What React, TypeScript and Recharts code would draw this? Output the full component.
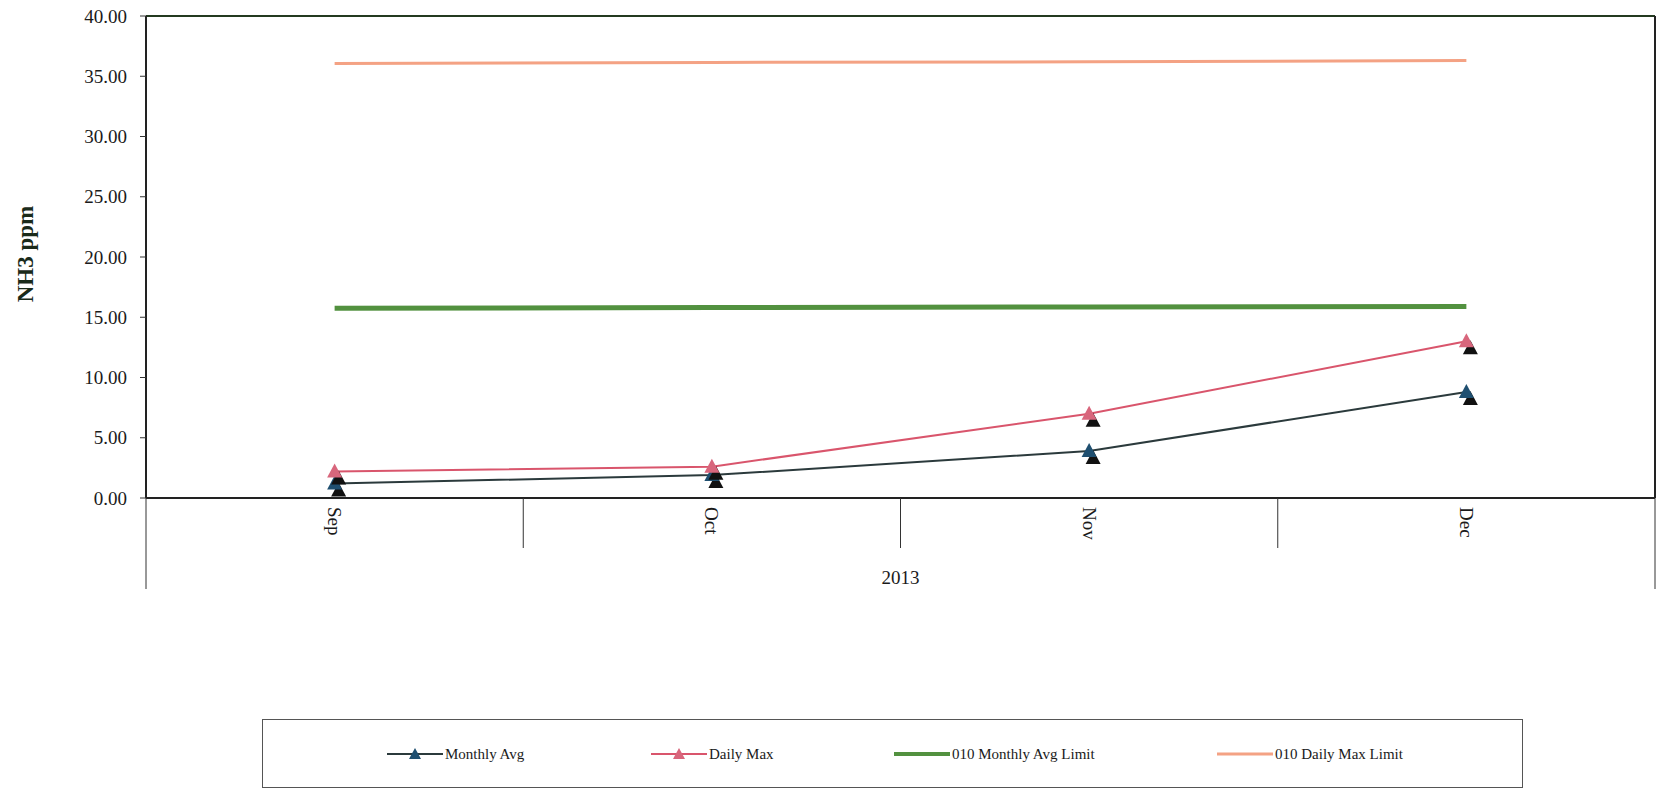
import React from 'react';
import { LineChart, Line, XAxis, YAxis, CartesianGrid, ReferenceLine } from 'recharts';

const categories = ['Sep', 'Oct', 'Nov', 'Dec'];
const monthlyAvg = [1.2, 1.9, 3.9, 8.8];
const dailyMax = [2.2, 2.6, 7.0, 13.0];
const monthlyAvgLimit = [15.75, 15.8, 15.85, 15.9];
const dailyMaxLimit = [36.05, 36.15, 36.2, 36.3];
const yTicks = [0, 5, 10, 15, 20, 25, 30, 35, 40];
const groupLabel = '2013';
const yLabel = 'NH3 ppm';

const seriesInfo = [
  { key: 'monthlyAvg', name: 'Monthly Avg', color: '#2b3a3c', marker: '#1f4f70', width: 2, tri: true },
  { key: 'dailyMax', name: 'Daily Max', color: '#d9556c', marker: '#d8667c', width: 2, tri: true },
  { key: 'monthlyAvgLimit', name: '010 Monthly Avg Limit', color: '#52913f', marker: '', width: 5, tri: false },
  { key: 'dailyMaxLimit', name: '010 Daily Max Limit', color: '#f4a284', marker: '', width: 3, tri: false },
];

const data = categories.map((c, i) => ({
  cat: c,
  monthlyAvg: monthlyAvg[i],
  dailyMax: dailyMax[i],
  monthlyAvgLimit: monthlyAvgLimit[i],
  dailyMaxLimit: dailyMaxLimit[i],
}));

const FONT = '"Liberation Serif", "Times New Roman", serif';

const makeTriDot = (fill: string) => (props: any) => {
  const { cx, cy, index } = props;
  if (cx == null || cy == null) return <g key={index} />;
  const tri = (x: number, y: number) => `${x},${y - 8} ${x - 7.5},${y + 6} ${x + 7.5},${y + 6}`;
  return (
    <g key={index}>
      <polygon points={tri(cx + 4, cy + 7)} fill="#111" />
      <polygon points={tri(cx, cy)} fill={fill} />
    </g>
  );
};

const XTick = (props: any) => {
  const { x, y, payload, index, visibleTicksCount, width } = props;
  const off = payload && payload.offset ? payload.offset : width / visibleTicksCount / 2;
  const last = index === visibleTicksCount - 1;
  return (
    <g>
      <line x1={x - off} x2={x - off} y1={y} y2={y + (index === 0 ? 91 : 50)} stroke="#333" strokeWidth={1} />
      {last && <line x1={x + off} x2={x + off} y1={y} y2={y + 91} stroke="#333" strokeWidth={1} />}
      <text
        transform={`translate(${x},${y + 9}) rotate(90)`}
        textAnchor="start"
        dominantBaseline="central"
        fontFamily={FONT}
        fontSize={19}
        fill="#1a1a1a"
      >
        {payload.value}
      </text>
    </g>
  );
};

const LegendBox = () => (
  <div
    style={{
      position: 'absolute',
      left: 262,
      top: 719,
      width: 1261,
      height: 69,
      border: '1px solid #555',
      boxSizing: 'border-box',
      fontFamily: FONT,
    }}
  >
    {seriesInfo.map((s, i) => {
      const lefts = [124, 388, 631, 954];
      return (
        <div
          key={s.key}
          style={{ position: 'absolute', left: lefts[i], top: 26, height: 16, display: 'flex', alignItems: 'center' }}
        >
          <svg width={56} height={16}>
            <line x1={0} x2={56} y1={8} y2={8} stroke={s.color} strokeWidth={s.tri ? 2 : s.width === 5 ? 4 : 3} />
            {s.tri && <polygon points="28,2 22,13 34,13" fill={s.marker} />}
          </svg>
          <span style={{ fontSize: 15, color: '#1a1a1a', marginLeft: 2, whiteSpace: 'nowrap' }}>{s.name}</span>
        </div>
      );
    })}
  </div>
);

export default function App() {
  return (
    <div style={{ position: 'absolute', left: 0, top: 0, width: 1658, height: 789, background: '#fff' }}>
      <LineChart
        width={1658}
        height={789}
        data={data}
        margin={{ top: 16, right: 2, left: 0, bottom: 199 }}
      >
        <CartesianGrid vertical={false} stroke="#4a5a46" strokeWidth={1} />
        <XAxis
          dataKey="cat"
          scale="band"
          height={92}
          tickSize={0}
          tickMargin={0}
          tickLine={false}
          axisLine={{ stroke: '#222', strokeWidth: 2 }}
          tick={<XTick />}
          interval={0}
          label={{
            value: groupLabel,
            position: 'insideBottom',
            offset: 6,
            style: { fontFamily: FONT, fontSize: 19, fill: '#1a1a1a' },
          }}
        />
        <YAxis
          yAxisId="left"
          width={146}
          domain={[0, 40]}
          ticks={yTicks}
          interval={0}
          tickFormatter={(v: number) => v.toFixed(2)}
          tickSize={6}
          tickMargin={13}
          tickLine={{ stroke: '#333' }}
          axisLine={{ stroke: '#222', strokeWidth: 2 }}
          tick={{ fontFamily: FONT, fontSize: 19, fill: '#1a1a1a' }}
          label={{
            content: (p: any) => {
              const vb = p.viewBox || { y: 16, height: 482 };
              const cy = vb.y + vb.height / 2 - 3;
              return (
                <text
                  transform={`translate(25,${cy}) rotate(-90)`}
                  textAnchor="middle"
                  dominantBaseline="central"
                  fontFamily={FONT}
                  fontSize={23}
                  fontWeight="bold"
                  fill="#1a2a1a"
                >
                  {yLabel}
                </text>
              );
            },
          }}
        />
        <YAxis
          yAxisId="right"
          orientation="right"
          width={1}
          domain={[0, 40]}
          tick={false}
          tickLine={false}
          axisLine={{ stroke: '#222', strokeWidth: 2 }}
        />
        <ReferenceLine yAxisId="left" y={40} stroke="#243a20" strokeWidth={2} />
        <Line
          yAxisId="left"
          dataKey="dailyMaxLimit"
          name="010 Daily Max Limit"
          stroke="#f4a284"
          strokeWidth={3}
          dot={false}
          activeDot={false}
          isAnimationActive={false}
        />
        <Line
          yAxisId="left"
          dataKey="monthlyAvgLimit"
          name="010 Monthly Avg Limit"
          stroke="#52913f"
          strokeWidth={5}
          dot={false}
          activeDot={false}
          isAnimationActive={false}
        />
        <Line
          yAxisId="left"
          dataKey="monthlyAvg"
          name="Monthly Avg"
          stroke="#2b3a3c"
          strokeWidth={2}
          dot={makeTriDot('#1f4f70')}
          activeDot={false}
          isAnimationActive={false}
        />
        <Line
          yAxisId="left"
          dataKey="dailyMax"
          name="Daily Max"
          stroke="#d9556c"
          strokeWidth={2}
          dot={makeTriDot('#d8667c')}
          activeDot={false}
          isAnimationActive={false}
        />
      </LineChart>
      <LegendBox />
    </div>
  );
}
